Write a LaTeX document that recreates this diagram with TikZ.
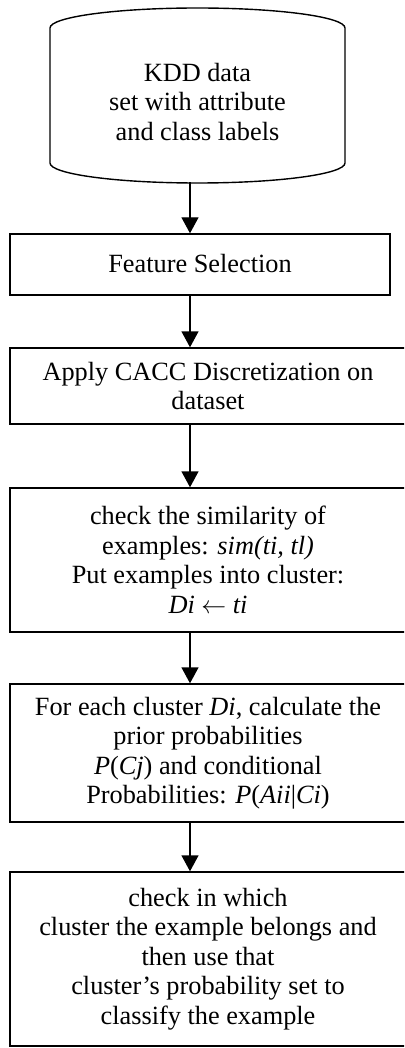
\documentclass[tikz,border=0pt]{standalone}
\usepackage{fontspec}
\setmainfont{Liberation Serif}
\usetikzlibrary{arrows.meta}
\begin{document}
\begin{tikzpicture}[x=1pt,y=-1pt,
  box/.style={draw,line width=1.4pt,rectangle,inner sep=0pt,align=center,
    font=\fontsize{26.3}{29.5}\selectfont},
  txt/.style={align=center,inner sep=0pt,font=\fontsize{26.3}{29.5}\selectfont},
  arr/.style={line width=1.4pt,-{Triangle[width=17pt,length=16pt]}}]
\useasboundingbox (0,0) rectangle (404,1048);
\clip (0,0) rectangle (404,1048);
% cylinder
\draw[line width=1.4pt] (50,28) arc[start angle=180,end angle=360,x radius=147.5,y radius=20]
  arc[start angle=0,end angle=-180,x radius=147.5,y radius=20] -- (50,163)
  arc[start angle=180,end angle=0,x radius=147.5,y radius=20] -- (345,28);
\node[txt] (db) at (197.5,102) {KDD data\\set with attribute\\and class labels};
\coordinate (dbbot) at (190,182.5);
\node[box,minimum width=380,minimum height=61] (b1) at (200,264.5) {\raisebox{2pt}{Feature Selection}};
\node[box,minimum width=396,minimum height=76] (b2) at (208,386) {Apply CACC Discretization on\\dataset};
\node[box,minimum width=396,minimum height=144] (b3) at (208,560)
  {check the similarity of\\examples: \textit{sim(ti, tl)}\\Put examples into cluster:\\\textit{Di} $\leftarrow$ \textit{ti}};
\node[box,minimum width=396,minimum height=138] (b4) at (208,753)
  {For each cluster \textit{Di}, calculate the\\prior probabilities\\\textit{P}(\textit{Cj}) and conditional\\Probabilities: \textit{P}(\textit{Aii}|\textit{Ci})};
\node[box,minimum width=396,minimum height=174] (b5) at (208,959)
  {check in which\\cluster the example belongs and\\then use that\\cluster’s probability set to\\classify the example};
\draw[arr] (dbbot) -- (b1.north -| dbbot);
\draw[arr] (b1.south -| dbbot) -- (b2.north -| dbbot);
\draw[arr] (b2.south -| dbbot) -- (b3.north -| dbbot);
\draw[arr] (b3.south -| dbbot) -- (b4.north -| dbbot);
\draw[arr] (b4.south -| dbbot) -- (b5.north -| dbbot);
\end{tikzpicture}
\end{document}
